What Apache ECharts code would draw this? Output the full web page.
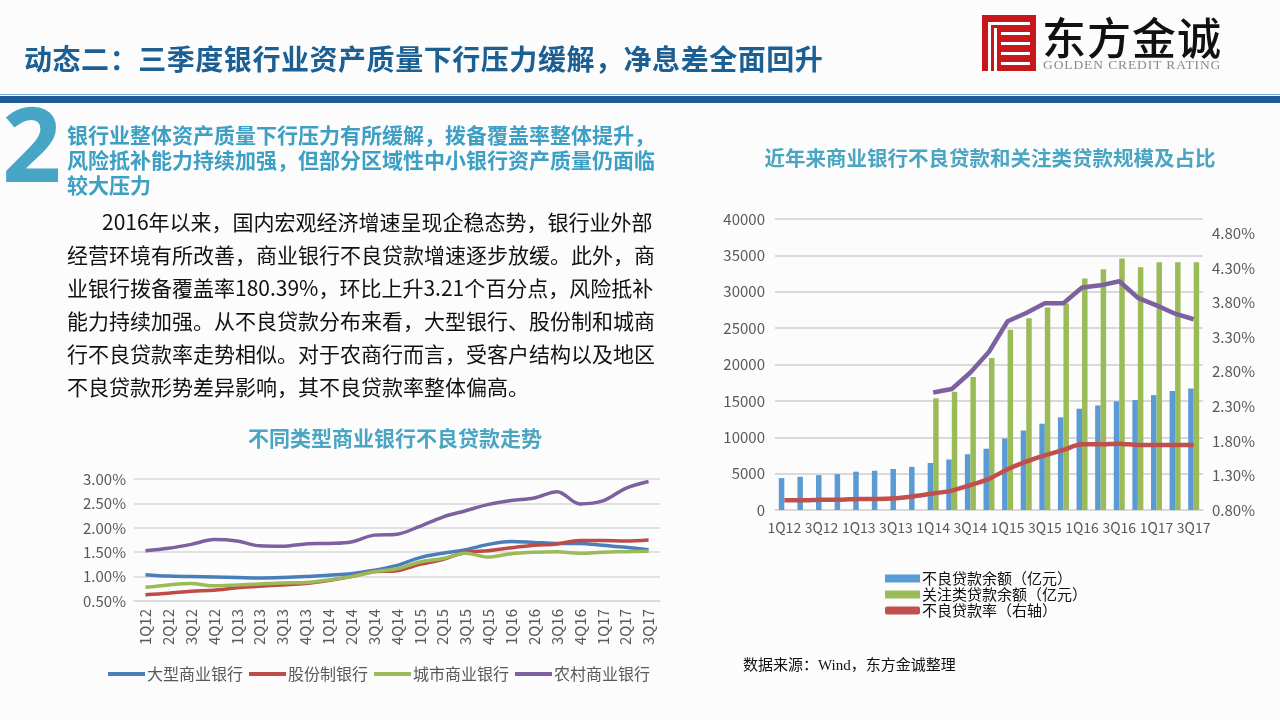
<!DOCTYPE html>
<html>
<head>
<meta charset="utf-8">
<script src="https://cdn.jsdelivr.net/npm/echarts@6/dist/echarts.min.js"></script>
<style>
  html,body{margin:0;padding:0;}
  body{width:1280px;height:720px;position:relative;overflow:hidden;background:#fcfcfc;font-family:"Noto Sans CJK SC","Noto Sans",sans-serif;}
  .abs{position:absolute;white-space:nowrap;}
  #chart{position:absolute;left:0;top:0;width:1280px;height:720px;}
</style>
</head>
<body>
<div id="chart"></div>

<div class="abs" style="left:24px;top:38px;font-size:28px;font-weight:bold;color:#1c5f93;line-height:40px;letter-spacing:0.55px;">动态二：三季度银行业资产质量下行压力缓解，净息差全面回升</div>

<svg class="abs" style="left:982px;top:15px;" width="54" height="56" viewBox="0 0 54 56">
  <rect x="0" y="0" width="54" height="56" fill="#c8161d"/>
  <rect x="6" y="7" width="3" height="49" fill="#fff"/>
  <rect x="12" y="13" width="3" height="43" fill="#fff"/>
  <rect x="6" y="7" width="42" height="3" fill="#fff"/>
  <rect x="19" y="17" width="29" height="3" fill="#fff"/>
  <rect x="19" y="27" width="29" height="3" fill="#fff"/>
  <rect x="19" y="37" width="29" height="3" fill="#fff"/>
  <rect x="19" y="47" width="29" height="3" fill="#fff"/>
</svg>
<div class="abs" style="left:1042px;top:10px;font-size:44px;line-height:52px;color:#111;font-weight:500;letter-spacing:1px;">东方金诚</div>
<div class="abs" style="left:1043px;top:58px;font-size:13.5px;line-height:14px;color:#8a8a8a;font-family:'Liberation Serif',serif;letter-spacing:0.9px;">GOLDEN CREDIT RATING</div>

<div class="abs" style="left:0;top:94px;width:1280px;height:1px;background:#7aa7d6;"></div>
<div class="abs" style="left:0;top:96px;width:1280px;height:7px;background:#1f5b98;"></div>

<div class="abs" style="left:2px;top:82px;font-size:104px;line-height:120px;font-weight:bold;color:#47a6c6;font-family:'Noto Sans',sans-serif;">2</div>

<div class="abs" style="left:67px;top:122px;font-size:21px;line-height:25px;font-weight:bold;color:#3d9fc4;">银行业整体资产质量下行压力有所缓解，拨备覆盖率整体提升，<br>风险抵补能力持续加强，但部分区域性中小银行资产质量仍面临<br>较大压力</div>

<div class="abs" style="left:67px;top:205px;font-size:21px;line-height:33px;color:#111;">
<span style="padding-left:35px;">2016年以来，国内宏观经济增速呈现企稳态势，银行业外部</span><br>经营环境有所改善，商业银行不良贷款增速逐步放缓。此外，商<br>业银行拨备覆盖率180.39%，环比上升3.21个百分点，风险抵补<br>能力持续加强。从不良贷款分布来看，大型银行、股份制和城商<br>行不良贷款率走势相似。对于农商行而言，受客户结构以及地区<br>不良贷款形势差异影响，其不良贷款率整体偏高。</div>

<div class="abs" style="left:743px;top:655px;font-size:15px;line-height:20px;color:#111;font-family:'Liberation Serif','Noto Sans CJK SC',serif;">数据来源：Wind，东方金诚整理</div>

<script>
// ---------- data ----------
const quarters = ['1Q12','2Q12','3Q12','4Q12','1Q13','2Q13','3Q13','4Q13','1Q14','2Q14','3Q14','4Q14',
                  '1Q15','2Q15','3Q15','4Q15','1Q16','2Q16','3Q16','4Q16','1Q17','2Q17','3Q17'];

// left chart: NPL ratio by bank type (%)
const largeBanks   = [1.04,1.01,1.00,0.99,0.98,0.97,0.98,1.00,1.03,1.06,1.13,1.23,1.39,1.48,1.55,1.66,1.72,1.70,1.68,1.68,1.64,1.60,1.55];
const jointStock   = [0.63,0.66,0.70,0.72,0.77,0.80,0.83,0.86,0.92,1.00,1.10,1.12,1.25,1.35,1.50,1.53,1.59,1.64,1.67,1.74,1.74,1.73,1.75];
const cityBanks    = [0.78,0.83,0.86,0.81,0.83,0.85,0.87,0.88,0.93,1.00,1.10,1.16,1.30,1.37,1.48,1.40,1.47,1.50,1.51,1.48,1.50,1.51,1.52];
const ruralBanks   = [1.53,1.58,1.66,1.76,1.73,1.63,1.62,1.67,1.68,1.71,1.85,1.87,2.03,2.22,2.35,2.48,2.56,2.61,2.74,2.49,2.55,2.81,2.95];
const leftNames    = ['大型商业银行','股份制银行','城市商业银行','农村商业银行'];

// right chart
const nplBalance     = [4382,4564,4788,4929,5265,5395,5636,5921,6461,6944,7669,8426,9825,10919,11863,12744,13921,14373,14939,15122,15795,16358,16704];
const specialMention = [null,null,null,null,null,null,null,null,15350,16250,18270,20880,24770,26370,27840,28390,31830,33100,34570,33380,34070,34070,34070];
const nplRatio       = [0.94,0.94,0.95,0.95,0.96,0.96,0.97,1.00,1.04,1.08,1.16,1.25,1.39,1.50,1.59,1.67,1.75,1.75,1.76,1.74,1.74,1.74,1.74];
const smRatio        = [null,null,null,null,null,null,null,null,2.50,2.55,2.79,3.09,3.53,3.65,3.79,3.79,4.02,4.05,4.11,3.87,3.76,3.64,3.56];
const rightNames     = ['不良贷款余额（亿元）','关注类贷款余额（亿元）','不良贷款率（右轴）'];

const leftTitle  = '不同类型商业银行不良贷款走势';
const rightTitle = '近年来商业银行不良贷款和关注类贷款规模及占比';

// ---------- chart ----------
const FONT = '"Noto Sans CJK SC","Noto Sans",sans-serif';
const grey = '#595959';
const chart = echarts.init(document.getElementById('chart'), null, {renderer:'canvas'});
const leftColors = ['#4a7ebb','#be4b48','#9bbb59','#7d60a0'];
const leftData = [largeBanks, jointStock, cityBanks, ruralBanks];

const option = {
  animation:false,
  backgroundColor:'transparent',
  textStyle:{fontFamily:FONT},
  graphic:[
    {type:'text', x:395, y:438, style:{text:leftTitle, fill:'#4aa5c2', font:'bold 21px '+FONT, align:'center', verticalAlign:'middle'}},
    {type:'text', x:990, y:158, style:{text:rightTitle, fill:'#4aa5c2', font:'bold 20.5px '+FONT, align:'center', verticalAlign:'middle'}}
  ],
  grid:[
    {left:134, top:479, width:526, height:122},
    {left:775, top:219, width:428, height:291}
  ],
  legend:[
    {data:leftNames, left:103, top:661, orient:'horizontal', icon:'rect', itemWidth:37, itemHeight:4, itemGap:6,
     textStyle:{fontSize:16, color:grey, fontFamily:FONT, padding:[0,0,0,-3]}},
    {data:[{name:rightNames[0], icon:'rect'},{name:rightNames[1], icon:'rect'},{name:rightNames[2], icon:'roundRect'}],
     left:880, top:566, orient:'vertical', itemWidth:35, itemHeight:8, itemGap:1,
     textStyle:{fontSize:15, color:'#111', fontFamily:FONT, lineHeight:13, padding:[0,0,0,-3]}}
  ],
  xAxis:[
    {type:'category', gridIndex:0, data:quarters, boundaryGap:true,
     axisLine:{show:true, lineStyle:{color:'#d9d9d9', width:1.5}}, axisTick:{show:false},
     axisLabel:{rotate:90, interval:0, fontSize:15, color:grey, margin:8, fontFamily:FONT}},
    {type:'category', gridIndex:1, data:quarters, boundaryGap:true,
     axisLine:{show:true, lineStyle:{color:'#d9d9d9', width:1.5}}, axisTick:{show:false},
     axisLabel:{interval:1, fontSize:14, color:grey, margin:11, fontFamily:FONT}}
  ],
  yAxis:[
    {type:'value', gridIndex:0, min:0.5, max:3.0, interval:0.5,
     axisLine:{show:false}, axisTick:{show:false},
     splitLine:{lineStyle:{color:'#d9d9d9', width:1.5}},
     axisLabel:{formatter:v=>v.toFixed(2)+'%', fontSize:15, color:grey, margin:8, fontFamily:FONT}},
    {type:'value', gridIndex:1, position:'left', min:0, max:40000, interval:5000,
     axisLine:{show:false}, axisTick:{show:false},
     splitLine:{lineStyle:{color:'#d9d9d9', width:2}},
     axisLabel:{formatter:v=>String(v), fontSize:15, color:grey, margin:10, fontFamily:FONT}},
    {type:'value', gridIndex:1, position:'right', min:0.8, max:5.01, interval:0.5,
     axisLine:{show:false}, axisTick:{show:false}, splitLine:{show:false},
     axisLabel:{showMaxLabel:false, fontSize:15, color:grey, margin:9, fontFamily:FONT,
       formatter:v=>{const k=(v-0.8)/0.5; return Math.abs(k-Math.round(k))<1e-6 ? v.toFixed(2)+'%' : '';}}}
  ],
  series:[
    ...leftNames.map((n,i)=>({
      name:n, type:'line', xAxisIndex:0, yAxisIndex:0, data:leftData[i],
      smooth:0.35, symbol:'none', lineStyle:{width:3.5, color:leftColors[i]}, itemStyle:{color:leftColors[i]}
    })),
    {name:rightNames[0], type:'bar', xAxisIndex:1, yAxisIndex:1, data:nplBalance,
     barWidth:5.5, barGap:'0%', itemStyle:{color:'#5b9bd5'}},
    {name:rightNames[1], type:'bar', xAxisIndex:1, yAxisIndex:1, data:specialMention,
     barWidth:5.5, barGap:'0%', itemStyle:{color:'#9bbb59'}},
    {name:rightNames[2], type:'line', xAxisIndex:1, yAxisIndex:2, data:nplRatio,
     smooth:0.3, symbol:'none', lineStyle:{width:4.5, color:'#c0504d'}, itemStyle:{color:'#c0504d'}},
    {name:'关注类贷款率', type:'line', xAxisIndex:1, yAxisIndex:2, data:smRatio,
     smooth:false, symbol:'none', lineStyle:{width:4.5, color:'#7d60a0'}, itemStyle:{color:'#7d60a0'}}
  ]
};
chart.setOption(option);
</script>
</body>
</html>
